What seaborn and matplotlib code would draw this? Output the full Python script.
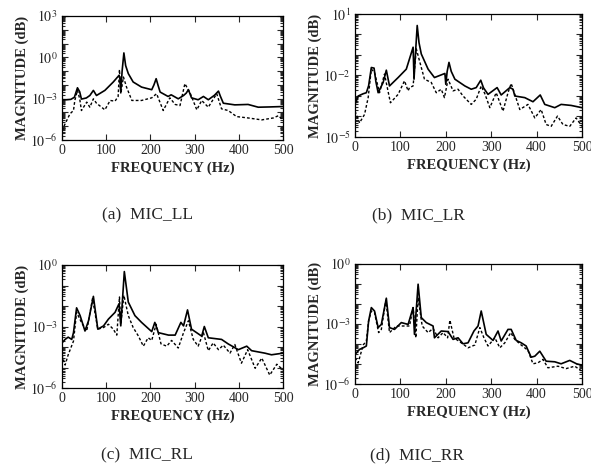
import numpy as np
import pandas as pd
import matplotlib
matplotlib.use("Agg")
import matplotlib.pyplot as plt
import matplotlib.ticker as mticker
import seaborn as sns

# ---- data: frequency (Hz) and log10 magnitude ----
ll_solid_f = [0, 10, 20, 28, 35, 40, 44, 55, 63, 71, 78, 97, 116, 129, 131, 133, 136, 140, 144, 150, 161, 180, 203, 208, 213, 217, 222, 240, 247, 263, 275, 281, 286, 293, 308, 320, 331, 345, 354, 358, 365, 391, 421, 444, 470, 500]
ll_solid_e = [-3.08, -3.08, -3.05, -2.9, -2.21, -2.5, -3.03, -2.95, -2.77, -2.40, -2.77, -2.40, -1.79, -1.31, -1.5, -2.52, -1.0, 0.32, -0.6, -1.18, -1.79, -2.16, -2.35, -2.0, -1.55, -2.0, -2.52, -2.84, -2.72, -3.01, -2.77, -2.6, -2.35, -2.94, -3.08, -2.84, -3.08, -2.75, -2.45, -2.8, -3.33, -3.45, -3.42, -3.62, -3.6, -3.57]
ll_dash_f = [0, 7, 18, 26, 29, 35, 40, 44, 56, 63, 71, 78, 97, 109, 120, 127, 130, 133, 139, 146, 158, 180, 203, 214, 229, 244, 256, 267, 278, 290, 305, 316, 331, 350, 361, 376, 395, 421, 452, 478, 490, 500]
ll_dash_e = [-5.32, -4.83, -4.10, -3.86, -3.13, -2.40, -3.0, -3.86, -3.25, -3.62, -3.01, -3.33, -3.81, -3.13, -3.18, -2.84, -0.89, -2.64, -1.43, -2.16, -3.13, -3.13, -2.94, -2.64, -3.86, -2.94, -3.42, -3.50, -1.91, -2.60, -3.81, -3.13, -3.62, -2.64, -3.74, -3.86, -4.30, -4.40, -4.54, -4.40, -4.23, -4.59]

lr_solid_f = [0, 7, 18, 25, 30, 36, 42, 46, 51, 62, 69, 76, 95, 113, 128, 130, 133, 137, 141, 146, 161, 175, 198, 200, 203, 207, 212, 220, 242, 256, 267, 277, 283, 293, 313, 322, 341, 348, 352, 374, 392, 408, 418, 440, 454, 476, 500]
lr_solid_e = [-3.41, -3.0, -2.89, -2.84, -2.5, -1.61, -1.64, -2.3, -2.84, -2.34, -1.74, -2.51, -2.10, -1.69, -0.62, -2.18, -1.0, 0.44, -0.4, -0.95, -1.69, -2.10, -1.90, -2.43, -1.8, -1.36, -1.8, -2.18, -2.51, -2.67, -2.59, -2.23, -2.6, -2.92, -2.59, -2.95, -2.59, -2.67, -3.0, -3.08, -3.28, -2.95, -3.41, -3.57, -3.41, -3.46, -3.57]
lr_dash_f = [0, 10, 21, 29, 36, 43, 54, 65, 78, 95, 109, 117, 120, 128, 135, 142, 153, 168, 179, 190, 197, 205, 216, 227, 238, 256, 267, 278, 286, 297, 311, 326, 337, 344, 352, 363, 381, 396, 410, 421, 432, 446, 458, 473, 487, 500]
lr_dash_e = [-3.74, -4.31, -3.90, -3.08, -1.69, -1.85, -2.84, -1.93, -3.33, -2.92, -2.26, -2.75, -2.59, -2.51, -0.70, -1.28, -2.18, -2.34, -2.84, -2.67, -3.08, -2.18, -2.75, -2.67, -3.0, -3.41, -3.16, -2.51, -2.89, -3.57, -2.84, -3.74, -2.84, -2.39, -2.92, -3.66, -3.41, -4.07, -3.66, -4.39, -4.48, -3.98, -4.39, -4.48, -4.07, -4.48]

rl_solid_f = [0, 7, 14, 22, 26, 33, 41, 52, 60, 71, 81, 94, 105, 120, 129, 133, 141, 150, 165, 180, 203, 210, 218, 241, 256, 269, 275, 284, 293, 316, 322, 331, 361, 376, 399, 418, 429, 459, 474, 500]
rl_solid_e = [-3.80, -3.63, -3.52, -3.63, -3.30, -2.09, -2.47, -3.22, -2.72, -1.53, -3.13, -2.97, -2.64, -2.31, -1.89, -2.97, -0.32, -1.81, -2.47, -2.80, -3.25, -2.80, -3.30, -3.42, -3.42, -2.80, -2.97, -2.19, -3.13, -3.47, -3.00, -3.55, -3.63, -3.85, -4.13, -3.96, -4.18, -4.30, -4.38, -4.30]
rl_dash_f = [0, 7, 14, 26, 33, 44, 56, 69, 81, 94, 105, 116, 124, 130, 133, 140, 150, 161, 173, 184, 195, 203, 213, 224, 237, 248, 263, 275, 286, 297, 308, 320, 331, 342, 354, 365, 380, 391, 406, 420, 437, 452, 470, 486, 500]
rl_dash_e = [-4.38, -4.88, -4.38, -3.71, -2.31, -2.80, -3.22, -1.64, -3.13, -3.05, -2.89, -3.13, -3.42, -1.56, -2.89, -1.48, -2.47, -3.05, -3.47, -3.96, -3.55, -3.68, -2.89, -3.85, -3.96, -3.68, -4.05, -3.30, -2.72, -3.63, -3.96, -3.30, -4.18, -3.80, -4.13, -3.91, -4.30, -3.88, -4.79, -4.13, -5.04, -4.54, -5.37, -4.84, -5.12]

rr_solid_f = [0, 10, 18, 25, 30, 36, 43, 51, 58, 69, 76, 87, 102, 117, 128, 131, 139, 146, 157, 172, 175, 190, 205, 216, 227, 238, 249, 262, 271, 278, 289, 304, 315, 322, 337, 344, 355, 366, 377, 388, 396, 407, 421, 440, 454, 473, 488, 500]
rr_solid_e = [-4.52, -4.27, -4.19, -4.10, -2.85, -2.18, -2.35, -3.18, -3.02, -1.71, -3.18, -3.27, -2.93, -3.02, -2.18, -3.52, -1.01, -2.68, -2.93, -3.10, -3.69, -3.35, -3.38, -3.77, -3.69, -3.99, -3.94, -3.35, -3.10, -2.35, -3.52, -3.82, -3.35, -3.85, -3.27, -3.27, -3.82, -3.94, -4.10, -4.66, -4.61, -4.36, -4.86, -4.89, -4.99, -4.82, -4.99, -5.06]
rr_dash_f = [0, 7, 18, 25, 30, 36, 43, 52, 58, 68, 76, 91, 106, 120, 128, 134, 139, 148, 161, 172, 183, 194, 204, 209, 218, 234, 249, 264, 275, 284, 293, 308, 319, 330, 343, 352, 366, 381, 392, 403, 414, 425, 447, 465, 484, 500]
rr_dash_e = [-4.69, -4.94, -4.05, -3.85, -2.85, -2.35, -2.43, -3.43, -3.27, -1.81, -3.43, -3.10, -3.10, -3.10, -2.18, -3.69, -1.68, -3.10, -3.43, -3.22, -3.69, -3.43, -3.69, -2.81, -3.69, -3.94, -4.19, -4.05, -3.18, -3.69, -4.10, -3.69, -4.19, -3.94, -3.43, -3.77, -4.05, -4.32, -4.99, -4.94, -4.77, -5.19, -5.11, -5.23, -5.11, -5.36]

captions = ["(a)  MIC_LL", "(b)  MIC_LR", "(c)  MIC_RL", "(d)  MIC_RR"]
x_ticks = [0, 100, 200, 300, 400, 500]
y_ranges = [(-6, 3), (-5, 1), (-6, 0), (-6, 0)]
y_label_exps = [[3, 0, -3, -6], [1, -2, -5], [0, -3, -6], [0, -3, -6]]

series = [
    (ll_solid_f, ll_solid_e, ll_dash_f, ll_dash_e),
    (lr_solid_f, lr_solid_e, lr_dash_f, lr_dash_e),
    (rl_solid_f, rl_solid_e, rl_dash_f, rl_dash_e),
    (rr_solid_f, rr_solid_e, rr_dash_f, rr_dash_e),
]

# ---- style ----
sns.set_style("ticks")
plt.rcParams['font.family'] = ['Liberation Serif', 'DejaVu Serif']
plt.rcParams['mathtext.fontset'] = 'stix'

W, H = 591, 472
fig = plt.figure(figsize=(W / 100, H / 100), dpi=100)

# axes boxes in pixels: left, right, top, bottom
boxes = [(62, 283, 16, 140), (355, 582, 14, 137), (62, 283, 265, 388), (355, 582, 264, 384)]
cap_pos = [(148, 215), (418, 215), (147, 455), (417, 455)]

for i, (l, r, t, b) in enumerate(boxes):
    ax = fig.add_axes([l / W, (H - b) / H, (r - l) / W, (b - t) / H])
    sf, se, df_, de = series[i]
    d1 = pd.DataFrame({"f": sf, "m": 10.0 ** np.array(se)})
    d2 = pd.DataFrame({"f": df_, "m": 10.0 ** np.array(de)})
    ax.set_yscale("log")
    sns.lineplot(data=d1, x="f", y="m", ax=ax, color="black", lw=1.2)
    sns.lineplot(data=d2, x="f", y="m", ax=ax, color="black", lw=1.0,
                 linestyle=(0, (2.0, 1.5)))
    lo, hi = y_ranges[i]
    ax.set_ylim(10.0 ** lo, 10.0 ** hi)
    ax.set_xlim(0, 500)
    ax.set_xticks(x_ticks)
    ax.set_xticklabels([str(v) for v in x_ticks])
    exps = list(range(lo, hi + 1))
    ax.set_yticks([10.0 ** e for e in exps])
    ax.set_yticklabels([(r"$10^{%d}$" % e) if e in y_label_exps[i] else "" for e in exps])
    ax.yaxis.set_minor_locator(mticker.LogLocator(base=10, subs=np.arange(2, 10), numticks=50))
    ax.yaxis.set_minor_formatter(mticker.NullFormatter())
    ax.tick_params(which="both", direction="in", top=True, right=True, width=0.8,
                   labelsize=10, pad=3)
    ax.tick_params(which="major", length=4)
    ax.tick_params(which="minor", length=2)
    for s in ax.spines.values():
        s.set_linewidth(0.9)
        s.set_color("black")
    ax.set_xlabel("FREQUENCY (Hz)", fontsize=10.5, fontweight="bold", labelpad=3)
    ax.set_ylabel("MAGNITUDE (dB)", fontsize=10.5, fontweight="bold", labelpad=1)
    cx, cy = cap_pos[i]
    fig.text(cx / W, 1 - cy / H, captions[i], ha="center", va="center", fontsize=12.5)

fig.savefig("out.png", dpi=100)
